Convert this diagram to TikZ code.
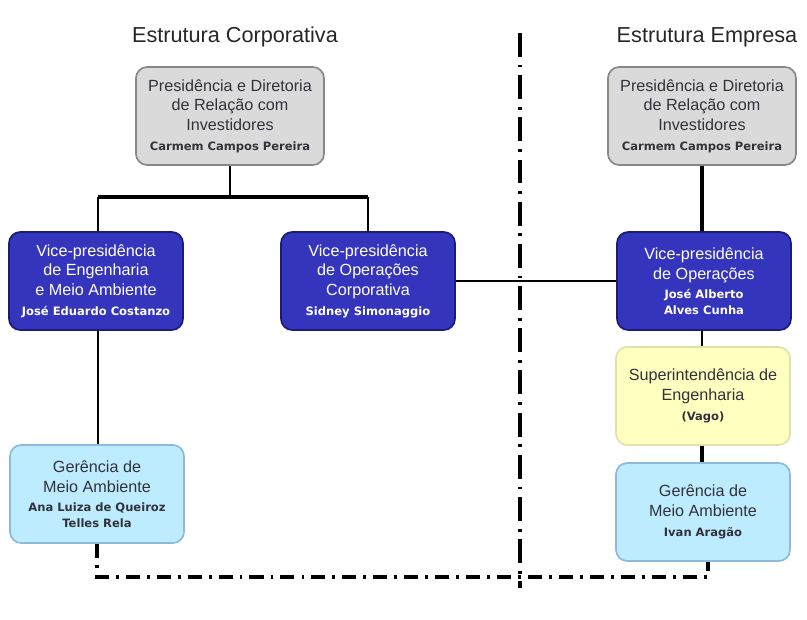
\documentclass[tikz,border=0pt]{standalone}
\usepackage{fontspec}
\setmainfont{Liberation Sans}
\newfontfamily\namefont{DejaVu Sans}
\definecolor{presgray}{RGB}{218,218,218}
\definecolor{presedge}{RGB}{135,135,135}
\definecolor{vpblue}{RGB}{52,52,188}
\definecolor{vpedge}{RGB}{28,28,120}
\definecolor{gerblue}{RGB}{190,236,255}
\definecolor{geredge}{RGB}{140,185,220}
\definecolor{supyellow}{RGB}{255,255,192}
\definecolor{supedge}{RGB}{225,225,170}
\definecolor{textgray}{RGB}{50,50,60}
\usetikzlibrary{positioning}

% name line under each title
\newcommand{\who}[1]{{\namefont\bfseries\fontsize{8.2}{12}\selectfont #1}}

\begin{document}
\begin{tikzpicture}[x=0.025cm, y=-0.025cm,
  orgbox/.style={rounded corners=8pt, minimum width=4.35cm, minimum height=2.45cm,
    align=center, line width=1.2pt, inner sep=2pt, font=\fontsize{11.5}{14}\selectfont},
  presbox/.style={orgbox, minimum width=4.7cm, draw=presedge, fill=presgray, text=textgray},
  vpbox/.style={orgbox, draw=vpedge, fill=vpblue, text=white},
  gerbox/.style={orgbox, draw=geredge, fill=gerblue, text=textgray},
  supbox/.style={orgbox, draw=supedge, fill=supyellow, text=textgray},
  title/.style={font=\fontsize{15.4}{18}\selectfont, text=black!85},
  link/.style={line width=1.5pt},
  bar/.style={line width=2.8pt},
  sepv/.style={line width=2.6pt, dash pattern=on 17pt off 5.5pt on 2pt off 5.5pt},
  seph/.style={line width=2.6pt, dash pattern=on 10pt off 5pt on 2pt off 5pt}]
  \useasboundingbox (0,0) rectangle (807,619);

  % Titles
  \node[title] (titleL) at (235,37) {Estrutura Corporativa};
  \node[title] (titleR) at (707,37) {Estrutura Empresa};

  % Corporate side
  \node[presbox] (presL) at (230,116) {Presidência e Diretoria\\de Relação com\\Investidores\\\who{Carmem Campos Pereira}};
  \node[vpbox] (vpEng) at (96,281) {Vice-presidência\\de Engenharia\\e Meio Ambiente\\\who{José Eduardo Costanzo}};
  \node[vpbox] (vpCorp) at (368,281) {Vice-presidência\\de Operações\\Corporativa\\\who{Sidney Simonaggio}};
  \node[gerbox] (gerL) at (97,494) {Gerência de\\Meio Ambiente\\\who{Ana Luiza de Queiroz}\\[-3pt]\who{Telles Rela}};

  % Company side
  \node[presbox] (presR) at (702,116) {Presidência e Diretoria\\de Relação com\\Investidores\\\who{Carmem Campos Pereira}};
  \node[vpbox] (vpOp) at (704,281) {Vice-presidência\\de Operações\\\who{José Alberto}\\[-3pt]\who{Alves Cunha}};
  \node[supbox] (supEng) at (703,396) {Superintendência de\\Engenharia\\\who{(Vago)}};
  \node[gerbox] (gerR) at (703,512) {Gerência de\\Meio Ambiente\\\who{Ivan Aragão}};

  % Connectors
  \coordinate (barL) at (98,197);
  \coordinate (barR) at (368,197);
  \draw[link] (presL.south) -- (presL.south |- barL);
  \draw[bar] (barL) -- (barR);
  \draw[link] (barL) -- (barL |- vpEng.north);
  \draw[link] (barR) -- (vpCorp.north);
  \draw[link] (vpEng.south -| barL) -- (gerL.north -| barL);
  \draw[link] (vpCorp.east) -- (vpOp.west);
  \draw[bar] (presR.south) -- (presR.south |- vpOp.north);
  \draw[link] (vpOp.south -| presR) -- (supEng.north -| presR);
  \draw[bar] (supEng.south -| presR) -- (gerR.north -| presR);

  % Separator lines
  \coordinate (sepTop) at (520,33);
  \coordinate (sepBot) at (520,588);
  \coordinate (cornerR) at (708,577);
  \draw[sepv] (sepTop) -- (sepBot);
  \draw[seph] (gerL.south) |- (cornerR) -- (cornerR |- gerR.south);
\end{tikzpicture}
\end{document}
